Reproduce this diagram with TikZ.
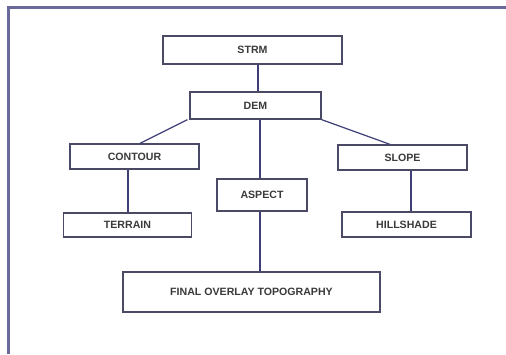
\documentclass[tikz,border=0pt]{standalone}
\usepackage{fontspec}
\setmainfont{Liberation Sans}
\definecolor{boxline}{HTML}{4A4A66}
\definecolor{linkline}{HTML}{3E3E78}
\definecolor{frameline}{HTML}{6A6A9A}
\definecolor{txt}{HTML}{3A3A3A}
\begin{document}
\begin{tikzpicture}[x=1pt,y=-1pt,
  box/.style={draw=boxline,line width=1.3pt,fill=white,inner sep=0pt,
    font=\fontsize{10.6}{12}\selectfont\bfseries,text=txt},
  link/.style={draw=linkline,line width=1.2pt}]
\useasboundingbox (0,0) rectangle (506,354);
\fill[white] (0,0) rectangle (506,354);
% frame
\coordinate (fa) at (8.5,354);
\coordinate (fb) at (8.5,7.5);
\coordinate (fc) at (506,7.5);
\draw[frameline,line width=2.6pt] (fa) -- (fb) -- (fc);
% boxes
\node[box,minimum width=179pt,minimum height=28pt] (strm) at (252.5,50) {STRM};
\node[box,minimum width=131pt,minimum height=27pt] (dem) at (255.5,105.5) {DEM};
\node[box,minimum width=129pt,minimum height=25pt] (contour) at (134.5,156.5) {CONTOUR};
\node[box,minimum width=129pt,minimum height=25pt] (slope) at (402.5,157.5) {SLOPE};
\node[box,minimum width=90pt,minimum height=32pt] (aspect) at (262,195) {ASPECT};
\node[box,minimum width=128pt,minimum height=24pt] (terrain) at (127.5,225) {TERRAIN};
\node[box,minimum width=129pt,minimum height=25pt] (hill) at (406.5,224.5) {HILLSHADE};
\node[box,minimum width=257pt,minimum height=40pt] (final) at (251.5,292) {FINAL OVERLAY TOPOGRAPHY};
% connectors
\draw[link] (strm.south -| 258,0) -- (dem.north -| 258,0);
\draw[link] (dem.south -| 260,0) -- (aspect.north -| 260,0);
\draw[link] (dem.south west) ++(-2,0) -- (contour.north -| 140,0);
\draw[link] (dem.south east) -- (slope.north -| 390,0);
\draw[link] (contour.south -| 128,0) -- (terrain.north -| 128,0);
\draw[link] (slope.south -| 411,0) -- (hill.north -| 411,0);
\draw[link] (aspect.south -| 260,0) -- (final.north -| 260,0);
\end{tikzpicture}
\end{document}
